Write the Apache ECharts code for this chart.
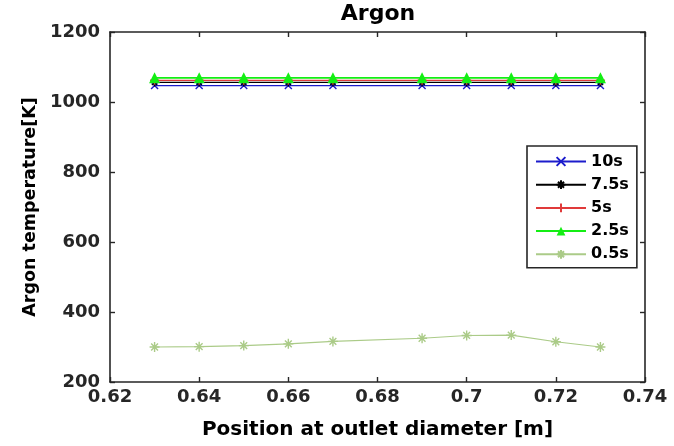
<!DOCTYPE html>
<html>
<head>
<meta charset="utf-8">
<script src="https://cdn.jsdelivr.net/npm/echarts@6/dist/echarts.min.js"></script>
<style>
html,body{margin:0;padding:0;background:#fff;}
#c{width:674px;height:446px;}
</style>
</head>
<body>
<div id="c"></div>
<script>
// Data
const positions = [0.63, 0.64, 0.65, 0.66, 0.67, 0.69, 0.70, 0.71, 0.72, 0.73];
const temp10s  = [1047, 1047, 1047, 1047, 1047, 1047, 1047, 1047, 1047, 1047];
const temp7_5s = [1056, 1056, 1056, 1056, 1056, 1056, 1056, 1056, 1056, 1056];
const temp5s   = [1062, 1062, 1062, 1062, 1062, 1062, 1062, 1062, 1062, 1062];
const temp2_5s = [1069, 1069, 1069, 1069, 1069, 1069, 1069, 1069, 1069, 1069];
const temp0_5s = [300, 301, 304, 309, 316, 325, 333, 334, 315, 300];
const seriesNames = ['10s', '7.5s', '5s', '2.5s', '0.5s'];
const xTicks = [0.62, 0.64, 0.66, 0.68, 0.70, 0.72, 0.74];
const yTicks = [200, 400, 600, 800, 1000, 1200];

const FONT = 'DejaVu Sans';
const AX = '#262626';

function pts(vals){ return positions.map((x,i)=>[x, vals[i]]); }

const CROSS = 'path://M0,0L10,10M10,0L0,10';
const PLUS  = 'path://M5,0L5,10M0,5L10,5';
const STAR  = 'path://M5,0L5,10M0,5L10,5M1.6,1.6L8.4,8.4M8.4,1.6L1.6,8.4';

function mk(name, vals, color, symbol, size, lw, filled){
  return {
    name: name, type: 'line', data: pts(vals),
    symbol: symbol, symbolSize: size, showAllSymbol: true,
    lineStyle: {color: color, width: lw},
    itemStyle: filled ? {color: color, borderWidth: 0}
                      : {color: color, borderColor: color, borderWidth: 1.4},
    emphasis: {disabled: true},
    animation: false, z: 3
  };
}

const chart = echarts.init(document.getElementById('c'), null, {renderer: 'canvas'});
const axisCommon = {
  type: 'value',
  axisLine: {show: true, lineStyle: {color: AX, width: 1.6}},
  axisTick: {show: true, inside: true, length: 5, lineStyle: {color: AX, width: 1.4}},
  splitLine: {show: false}
};
chart.setOption({
  backgroundColor: '#fff',
  animation: false,
  title: {
    text: 'Argon', left: 378, top: 3, textAlign: 'center', padding: 0,
    textStyle: {fontFamily: FONT, fontWeight: 'bold', fontSize: 22, color: '#000'}
  },
  grid: {left: 110, right: 29, top: 32, bottom: 64, containLabel: false},
  legend: {
    orient: 'vertical', left: 527, top: 146,
    data: seriesNames,
    itemWidth: 50, itemHeight: 11, itemGap: 4.2,
    padding: [6, 8, 4, 8],
    backgroundColor: '#fff', borderColor: AX, borderWidth: 1.6, borderRadius: 0,
    textStyle: {fontFamily: FONT, fontWeight: 'bold', fontSize: 16, color: '#000', lineHeight: 19}
  },
  xAxis: [
    Object.assign({}, axisCommon, {
      min: xTicks[0], max: xTicks[xTicks.length-1], interval: 0.02, position: 'bottom',
      axisLabel: {margin: 6, fontFamily: FONT, fontWeight: 'bold', fontSize: 18, color: '#262626',
        formatter: v => String(+(+v).toFixed(2))},
      name: 'Position at outlet diameter [m]', nameLocation: 'middle', nameGap: 38,
      nameTextStyle: {fontFamily: FONT, fontWeight: 'bold', fontSize: 20, color: '#000'}
    }),
    Object.assign({}, axisCommon, {
      min: xTicks[0], max: xTicks[xTicks.length-1], interval: 0.02, position: 'top',
      axisLabel: {show: false}
    })
  ],
  yAxis: [
    Object.assign({}, axisCommon, {
      min: yTicks[0], max: yTicks[yTicks.length-1], interval: 200, position: 'left',
      axisLabel: {margin: 10, fontFamily: FONT, fontWeight: 'bold', fontSize: 18, color: '#262626',
        formatter: v => String(v)},
      name: 'Argon temperature[K]', nameLocation: 'middle', nameGap: 66,
      nameTextStyle: {fontFamily: FONT, fontWeight: 'bold', fontSize: 17.5, color: '#000'}
    }),
    Object.assign({}, axisCommon, {
      min: yTicks[0], max: yTicks[yTicks.length-1], interval: 200, position: 'right',
      axisLabel: {show: false}
    })
  ],
  series: [
    mk('10s',  temp10s,  '#1c1ccc', CROSS, 7, 1.3, false),
    mk('7.5s', temp7_5s, '#000000', STAR, 8, 1.3, false),
    mk('5s',   temp5s,   '#e03a3a', PLUS, 9, 1.3, false),
    mk('2.5s', temp2_5s, '#14ee14', 'triangle', 11, 1.6, true),
    mk('0.5s', temp0_5s, '#abcb88', STAR, 10, 1.1, false)
  ]
});
</script>
</body>
</html>
